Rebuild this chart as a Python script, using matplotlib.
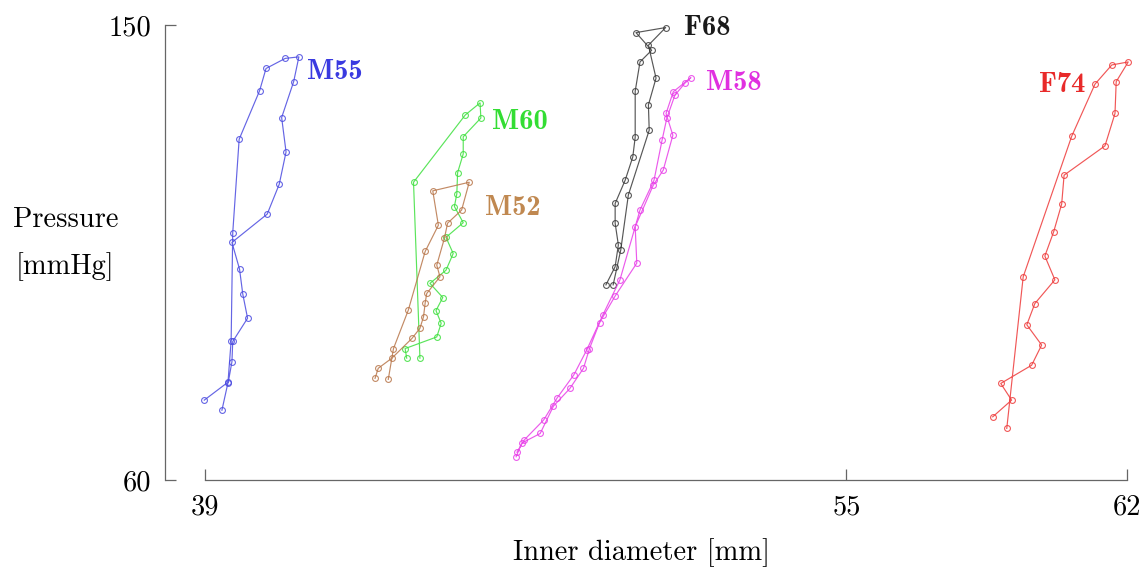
import matplotlib
matplotlib.use("Agg")
import matplotlib.pyplot as plt

plt.rcParams['axes.formatter.use_mathtext'] = True

# inner diameter [mm] / pressure [mmHg], loading then unloading
m55_d = [38.98, 39.58, 39.67, 39.69, 40.06, 39.94, 39.86, 39.67, 40.55, 40.85, 41.02, 40.91, 41.21, 41.34,
         41.00, 40.52, 40.36, 39.85, 39.69, 39.65, 39.57, 39.42]
m55_p = [75.8, 79.4, 83.4, 87.4, 92.0, 96.8, 101.7, 107.0, 112.6, 118.5, 124.9, 131.7, 138.8, 143.7,
         143.4, 141.4, 137.0, 127.4, 108.9, 87.5, 79.2, 73.8]

m60_d = [44.03, 43.99, 44.78, 44.89, 44.76, 44.93, 44.61, 45.01, 45.19, 45.01, 45.44, 45.22, 45.28, 45.30,
         45.44, 45.44, 45.88, 45.86, 45.49, 44.20, 44.36]
m60_p = [84.1, 86.0, 88.3, 91.0, 93.5, 96.1, 98.9, 101.5, 104.8, 108.0, 110.9, 114.1, 116.6, 120.8,
         124.5, 127.9, 131.6, 134.6, 132.2, 118.9, 84.1]

m52_d = [43.24, 43.32, 43.66, 44.16, 44.36, 44.45, 44.49, 44.53, 44.86, 44.78, 44.97, 45.05, 45.40, 45.59,
         44.68, 44.82, 44.49, 44.07, 43.70, 43.57]
m52_p = [80.1, 82.1, 84.1, 88.0, 90.0, 92.3, 95.0, 96.9, 100.2, 102.5, 107.8, 110.8, 113.4, 118.9,
         117.2, 110.4, 105.2, 93.6, 86.0, 79.9]

f68_d = [49.00, 49.23, 49.31, 49.23, 49.23, 49.48, 49.67, 49.73, 49.73, 49.85, 50.14, 49.75, 50.49, 50.06,
         50.25, 50.06, 50.08, 49.56, 49.37, 49.18]
f68_p = [98.6, 102.2, 106.5, 110.8, 114.7, 119.3, 123.9, 127.8, 136.9, 142.7, 145.0, 148.5, 149.5, 146.0,
         139.5, 134.2, 129.2, 116.4, 105.5, 98.6]

m58_d = [46.76, 46.90, 47.36, 47.69, 48.10, 48.44, 48.59, 48.84, 49.23, 49.77, 49.73, 50.18, 50.43, 50.67,
         50.50, 50.68, 51.12,
         50.97, 50.72, 50.52, 50.40, 50.20, 49.85, 49.35, 48.92, 48.52, 48.20, 47.78, 47.45, 46.96, 46.78]
m58_p = [64.6, 67.3, 69.2, 74.6, 78.1, 82.1, 86.0, 91.1, 96.4, 102.9, 110.1, 118.3, 121.3, 128.2,
         132.5, 136.8, 139.6,
         138.5, 136.1, 131.6, 127.2, 119.3, 113.4, 99.6, 92.6, 85.7, 80.8, 76.2, 71.9, 67.9, 65.5]

f74_d = [58.65, 59.12, 58.85, 59.62, 59.87, 59.50, 59.70, 60.20, 59.95, 60.17, 60.37, 60.43, 61.45, 61.70,
         61.73, 62.03, 61.62, 61.20, 60.62, 59.41, 59.00]
f74_p = [72.5, 75.8, 79.1, 82.7, 86.7, 90.7, 94.9, 99.6, 104.3, 109.1, 114.6, 120.3, 126.1, 132.5,
         138.8, 142.7, 142.1, 138.3, 128.0, 100.2, 70.2]

names = ["M55", "M60", "M52", "F68", "M58", "F74"]
colors = ["#4a4ae0", "#3ee03e", "#b8764a", "#3a3a3a", "#e83ee8", "#ee3a3a"]
label_colors = ["#3a3ae0", "#33dd33", "#c08850", "#1a1a1a", "#e030e0", "#e82a2a"]
# label anchor (diameter, pressure) and alignment
label_pos = [(41.55, 140.8, "left"), (46.15, 130.8, "left"), (45.98, 113.8, "left"),
             (50.95, 149.4, "left"), (51.5, 138.6, "left"), (60.95, 138.2, "right")]

series_d = [m55_d, m60_d, m52_d, f68_d, m58_d, f74_d]
series_p = [m55_p, m60_p, m52_p, f68_p, m58_p, f74_p]

fig = plt.figure(figsize=(11.45, 5.70), dpi=100)
ax = fig.add_axes([0.1441, 0.1579, 0.8402, 0.7982])

for d, p, c in zip(series_d, series_p, colors):
    ax.plot(d, p, color=c, lw=0.85, marker='o', ms=4.2, mfc='none', mec=c, mew=0.8,
            alpha=0.85, clip_on=False)

for name, (x, y, ha), c in zip(names, label_pos, label_colors):
    ax.text(x, y, name, color=c, fontsize=20.5, fontfamily='cmb10', ha=ha, va='center')

ax.set_xlim(38.0, 62.0)
ax.set_ylim(60, 150)
ax.set_xticks([39, 55, 62])
ax.set_xticklabels(["39", "55", "62"], fontfamily='cmr10', fontsize=20.5)
ax.set_yticks([60, 150])
ax.set_yticklabels(["60", "150"], fontfamily='cmr10', fontsize=20.5)
ax.tick_params(direction='in', length=8, width=0.9, color='#666666', pad=10)

for s in ['top', 'right']:
    ax.spines[s].set_visible(False)
ax.spines['bottom'].set_bounds(39, 62)
ax.spines['left'].set_bounds(60, 150)
for s in ['bottom', 'left']:
    ax.spines[s].set_color('#666666')
    ax.spines[s].set_linewidth(0.9)

fig.text(0.057, 0.572, "Pressure\n[mmHg]", fontfamily='cmr10', fontsize=20.5, ha='center', va='center',
         linespacing=1.9)
fig.text(0.56, 0.03, "Inner diameter [mm]", fontfamily='cmr10', fontsize=20.5, ha='center', va='center')

fig.savefig("out.png", dpi=100)
